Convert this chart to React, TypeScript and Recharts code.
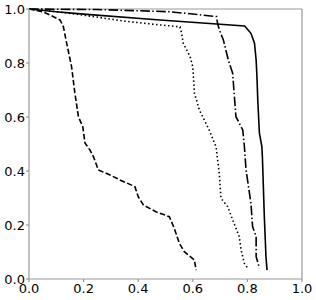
import React from "react";
import { LineChart, Line, XAxis, YAxis, ReferenceLine } from "recharts";

const ticks = [0, 0.2, 0.4, 0.6, 0.8, 1.0];

const solidX = [0, 0.1, 0.2, 0.48, 0.79, 0.813, 0.826, 0.832, 0.835, 0.838, 0.844, 0.853, 0.855, 0.862, 0.868, 0.872];
const solidY = [1, 0.99, 0.981, 0.959, 0.937, 0.91, 0.873, 0.811, 0.749, 0.663, 0.54, 0.49, 0.45, 0.231, 0.083, 0.033];

const dashDotX = [0, 0.25, 0.516, 0.687, 0.691, 0.7, 0.712, 0.724, 0.73, 0.746, 0.752, 0.758, 0.783, 0.789, 0.795, 0.813, 0.819, 0.832, 0.832, 0.844];
const dashDotY = [1, 0.998, 0.99, 0.972, 0.944, 0.916, 0.885, 0.836, 0.811, 0.762, 0.68, 0.601, 0.552, 0.49, 0.404, 0.28, 0.194, 0.157, 0.083, 0.04];

const dottedX = [0, 0.1, 0.208, 0.35, 0.48, 0.553, 0.559, 0.565, 0.59, 0.6, 0.606, 0.624, 0.66, 0.685, 0.697, 0.703, 0.728, 0.746, 0.77, 0.777, 0.789, 0.801];
const dottedY = [1, 0.99, 0.976, 0.955, 0.941, 0.934, 0.91, 0.873, 0.824, 0.786, 0.688, 0.626, 0.552, 0.49, 0.391, 0.299, 0.268, 0.219, 0.157, 0.107, 0.058, 0.04];

const dashedX = [0, 0.05, 0.077, 0.114, 0.126, 0.138, 0.156, 0.168, 0.181, 0.197, 0.205, 0.223, 0.236, 0.254, 0.297, 0.333, 0.388, 0.4, 0.419, 0.465, 0.514, 0.532, 0.551, 0.569, 0.606, 0.612];
const dashedY = [1, 0.99, 0.978, 0.959, 0.934, 0.873, 0.786, 0.689, 0.601, 0.564, 0.504, 0.478, 0.453, 0.404, 0.385, 0.367, 0.342, 0.305, 0.274, 0.249, 0.231, 0.188, 0.132, 0.101, 0.07, 0.033];

const zip = (xs: number[], ys: number[]) => xs.map((x, i) => ({ x, y: ys[i] }));

const series = [
  { name: "solid", data: zip(solidX, solidY), dash: undefined as string | undefined },
  { name: "dashdot", data: zip(dashDotX, dashDotY), dash: "9.6 2.4 1.5 2.4" },
  { name: "dotted", data: zip(dottedX, dottedY), dash: "1.5 2.5" },
  { name: "dashed", data: zip(dashedX, dashedY), dash: "5.5 2.4" },
];

const fmt = (v: number) => v.toFixed(1);
const tickStyle = { fontFamily: "DejaVu Sans", fontSize: 13, fill: "#000" };
const axisColor = "#999";

export default function App() {
  return (
    <div style={{ position: "absolute", left: 0, top: 0, background: "#fff" }}>
      <LineChart width={316} height={300} margin={{ top: 9, right: 14, bottom: 0, left: 0 }}>
        <XAxis
          type="number"
          dataKey="x"
          domain={[0, 1]}
          ticks={ticks}
          tickFormatter={fmt}
          height={21}
          tickSize={3}
          tickMargin={2}
          tick={tickStyle}
          stroke={axisColor}
          strokeWidth={1.2}
          allowDuplicatedCategory={false}
        />
        <YAxis
          type="number"
          dataKey="y"
          domain={[0, 1]}
          ticks={ticks}
          tickFormatter={fmt}
          width={29}
          tickSize={3}
          tickMargin={1}
          tick={tickStyle}
          stroke={axisColor}
          strokeWidth={1.2}
        />
        <ReferenceLine y={1} stroke={axisColor} strokeWidth={1.2} />
        <ReferenceLine x={1} stroke={axisColor} strokeWidth={1.2} />
        {series.map((s) => (
          <Line
            key={s.name}
            data={s.data}
            dataKey="y"
            type="linear"
            stroke="#000"
            strokeWidth={1.6}
            strokeDasharray={s.dash}
            dot={false}
            activeDot={false}
            isAnimationActive={false}
          />
        ))}
      </LineChart>
    </div>
  );
}
